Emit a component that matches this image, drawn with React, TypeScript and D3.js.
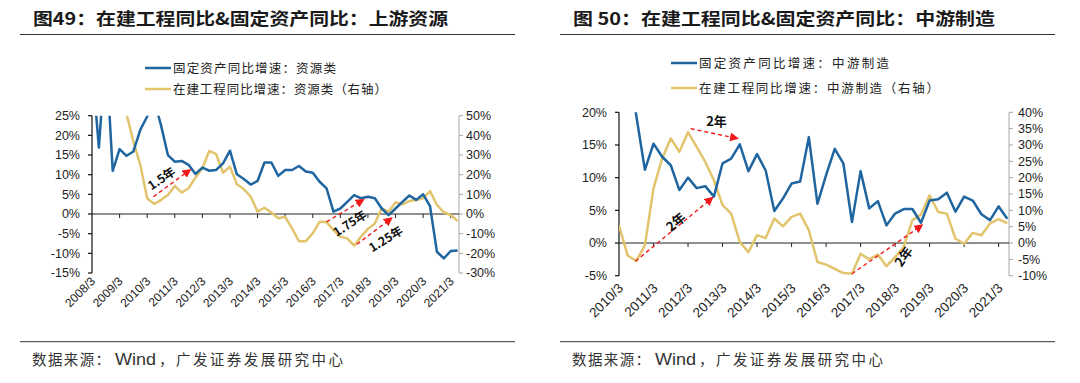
import React from "react";
import * as d3 from "d3";

// ---------- Data ----------
const LEFT_TICKS = ["2008/3","2009/3","2010/3","2011/3","2012/3","2013/3","2014/3","2015/3","2016/3","2017/3","2018/3","2019/3","2020/3","2021/3"];
const LEFT_Y_TICKS = [25, 20, 15, 10, 5, 0, -5, -10, -15];
const LEFT_Y2_TICKS = [50, 40, 30, 20, 10, 0, -10, -20, -30];
// quarterly from 2008/3, 固定资产同比增速：资源类 (%)
const LEFT_FAI = [38, 16.9, 42, 11.0, 16.5, 14.8, 15.9, 21.4, 24.8, 29, 22.6, 15.0, 13.3, 13.5, 12.5, 10.2, 11.8, 11.0, 11.2, 12.9, 16.1, 10.1, 8.9, 7.5, 8.4, 13.1, 13.1, 9.7, 11.2, 11.2, 12.2, 10.8, 10.5, 8.2, 6.5, 0.6, 1.4, 3.1, 4.8, 4.0, 4.4, 4.0, 1.4, -0.3, 1.4, 3.1, 4.7, 3.6, 5.0, 2.0, -9.6, -11.3, -9.4, -9.3];
// 在建工程同比增速：资源类（右轴）(%)
const LEFT_CIP: (number | null)[] = [null, null, null, 72, 62, 51, 36.8, 25, 8, 5.1, 7.1, 9.7, 14.3, 10.9, 13.1, 18.5, 23.3, 32.1, 30.4, 21, 24.1, 15.1, 12.7, 8.8, 1.2, 3.2, 0.8, -2.2, -1.4, -7.3, -13.8, -13.8, -9.8, -3.9, -4.1, -8.2, -11.5, -12.4, -16.1, -11.5, -7.6, -4.8, 2.9, 1.2, 6, 4.9, 6.6, 7.1, 8, 11.7, 4.6, 0.9, -0.5, -3.6];

const RIGHT_TICKS = ["2010/3","2011/3","2012/3","2013/3","2014/3","2015/3","2016/3","2017/3","2018/3","2019/3","2020/3","2021/3"];
const RIGHT_Y_TICKS = [20, 15, 10, 5, 0, -5];
const RIGHT_Y2_TICKS = [40, 35, 30, 25, 20, 15, 10, 5, 0, -5, -10];
// quarterly from 2010/3, 固定资产同比增速：中游制造 (%)
const RIGHT_FAI = [30, 30, 19.5, 11.2, 15.2, 13.2, 11.9, 8.1, 10.0, 8.4, 8.7, 7.1, 12.2, 12.9, 15.1, 11.0, 13.6, 11.1, 4.9, 6.8, 9.1, 9.4, 16.2, 6.0, 10.4, 14.4, 12.2, 3.2, 11.0, 5.3, 6.4, 2.7, 4.5, 5.2, 5.2, 3.1, 6.5, 6.7, 7.7, 4.8, 7.1, 6.5, 4.4, 3.5, 5.6, 3.7];
// 在建工程同比增速：中游制造（右轴）(%)
const RIGHT_CIP = [5.4, -3.8, -5.5, -0.7, 16.7, 25.9, 32, 27.9, 33.9, 29.4, 24.8, 19.2, 11.6, 9.0, 0.3, -2.8, 2.4, 1.5, 7.5, 5.1, 8.0, 9.0, 3.9, -5.8, -6.6, -7.9, -9.2, -9.4, -3.3, -5.0, -3.5, -7.1, -4.3, -1.2, 7.0, 8.7, 14.6, 9.5, 9.0, 1.3, -0.2, 3.1, 2.4, 6.0, 7.3, 6.0];

// annotations in data units (quarter index, left-axis value)
const LEFT_ARROWS = [
  { q0: 8.9, v0: 4.4, q1: 14.2, v1: 11.2 },
  { q0: 34.0, v0: -2.0, q1: 39.3, v1: 3.6 },
  { q0: 38.4, v0: -7.7, q1: 43.4, v1: -1.1 },
];
const LEFT_NOTES = [
  { q: 10.1, v: 9.0, text: "1.5年", angle: -34 },
  { q: 37.4, v: -2.4, text: "1.75年", angle: -33 },
  { q: 42.6, v: -6.4, text: "1.25年", angle: -32 },
];
const RIGHT_ARROWS = [
  { q0: 8.3, v0: 17.5, q1: 13.7, v1: 16.0 },
  { q0: 1.9, v0: -2.8, q1: 10.8, v1: 6.9 },
  { q0: 27.0, v0: -4.7, q1: 35.1, v1: 2.7 },
];
const RIGHT_NOTES = [
  { q: 11.3, v: 18.6, text: "2年", angle: 0 },
  { q: 6.6, v: 3.2, text: "2年", angle: -40 },
  { q: 33.0, v: -2.1, text: "2年", angle: -55 },
];

const BLUE = "#1f65a0";
const GOLD = "#e2c46d";
const NUM_FONT = "'Liberation Sans', Arial, sans-serif";
const CJK_FONT = "'Noto Sans CJK SC', 'Liberation Sans', sans-serif";

type PanelProps = {
  id: string;
  title: string;
  titleX: number;
  titleW: number;
  ruleX0: number;
  ruleX1: number;
  legend1: string;
  legend2: string;
  legX: number;
  legY1: number;
  legY2: number;
  legW1: number;
  legW2: number;
  ticks: string[];
  fai: (number | null)[];
  cip: (number | null)[];
  xr: [number, number];
  qMax: number;
  yr: [number, number];
  lDom: [number, number];
  rDom: [number, number];
  lTicks: number[];
  rTicks: number[];
  xFont: number;
  xLabDx: number;
  xLabY: number;
  rLabGap: number;
  arrows: { q0: number; v0: number; q1: number; v1: number }[];
  notes: { q: number; v: number; text: string; angle: number }[];
  noteFont: number;
};

function Panel(p: PanelProps) {
  const x = d3.scaleLinear().domain([0, p.qMax]).range(p.xr);
  const yL = d3.scaleLinear().domain(p.lDom).range(p.yr);
  const yR = d3.scaleLinear().domain(p.rDom).range(p.yr);
  const lineL = d3
    .line<number | null>()
    .defined((d) => d !== null)
    .x((_, i) => x(i))
    .y((d) => yL(d as number));
  const lineR = d3
    .line<number | null>()
    .defined((d) => d !== null)
    .x((_, i) => x(i))
    .y((d) => yR(d as number));
  const [x0, x1] = p.xr;
  const [yb, yt] = p.yr;
  const y0 = yL(0);
  const clipId = `clip-${p.id}`;
  const fx = p.ruleX0;
  return (
    <g>
      <defs>
        <clipPath id={clipId}>
          <rect x={x0} y={yt} width={x1 - x0} height={yb - yt} />
        </clipPath>
      </defs>
      {/* title */}
      <text x={p.titleX} y={25} fontFamily={CJK_FONT} fontWeight="bold" fontSize={17} fill="#1a1a1a" textLength={p.titleW} lengthAdjust="spacingAndGlyphs">
        {p.title}
      </text>
      <line x1={p.ruleX0} x2={p.ruleX1} y1={34.5} y2={34.5} stroke="#333" strokeWidth={1} />
      {/* legend */}
      <line x1={p.legX} x2={p.legX + 26} y1={p.legY1} y2={p.legY1} stroke={BLUE} strokeWidth={2.5} />
      <text x={p.legX + 28} y={p.legY1 + 4.5} fontFamily={CJK_FONT} fontSize={12.5} fill="#222" textLength={p.legW1} lengthAdjust="spacing">
        {p.legend1}
      </text>
      <line x1={p.legX} x2={p.legX + 26} y1={p.legY2} y2={p.legY2} stroke={GOLD} strokeWidth={2.5} />
      <text x={p.legX + 28} y={p.legY2 + 4.5} fontFamily={CJK_FONT} fontSize={12.5} fill="#222" textLength={p.legW2} lengthAdjust="spacing">
        {p.legend2}
      </text>
      {/* left axis */}
      <line x1={x0} x2={x0} y1={yt} y2={yb} stroke="#111" strokeWidth={1.2} />
      {p.lTicks.map((t) => (
        <g key={`l${t}`}>
          <line x1={x0 - 4} x2={x0} y1={yL(t)} y2={yL(t)} stroke="#111" strokeWidth={1.2} />
          <text x={x0 - 12} y={yL(t)} dy="0.35em" textAnchor="end" fontFamily={NUM_FONT} fontSize={12.5} fill="#222">
            {`${t}%`}
          </text>
        </g>
      ))}
      {/* right axis */}
      <line x1={x1} x2={x1} y1={yt} y2={yb} stroke="#a6a6a6" strokeWidth={1} />
      {p.rTicks.map((t) => (
        <g key={`r${t}`}>
          <line x1={x1} x2={x1 + 4} y1={yR(t)} y2={yR(t)} stroke="#a6a6a6" strokeWidth={1} />
          <text x={x1 + p.rLabGap} y={yR(t)} dy="0.35em" textAnchor="start" fontFamily={NUM_FONT} fontSize={12.5} fill="#222">
            {`${t}%`}
          </text>
        </g>
      ))}
      {/* zero line and category ticks */}
      <line x1={x0} x2={x1} y1={y0} y2={y0} stroke="#222" strokeWidth={1} />
      {p.ticks.map((t, i) => {
        const tx = x(i * 4);
        return (
          <g key={t}>
            {i > 0 && <line x1={tx} x2={tx} y1={y0} y2={y0 + 4} stroke="#222" strokeWidth={1} />}
            <text
              x={tx + p.xLabDx}
              y={p.xLabY}
              textAnchor="end"
              fontFamily={NUM_FONT}
              fontSize={p.xFont}
              fill="#222"
              transform={`rotate(-45 ${tx + p.xLabDx} ${p.xLabY})`}
            >
              {t}
            </text>
          </g>
        );
      })}
      {/* series */}
      <g clipPath={`url(#${clipId})`}>
        <path d={lineR(p.cip) || ""} fill="none" stroke={GOLD} strokeWidth={2.5} strokeLinejoin="round" />
        <path d={lineL(p.fai) || ""} fill="none" stroke={BLUE} strokeWidth={2.5} strokeLinejoin="round" />
      </g>
      {/* annotations */}
      {p.arrows.map((a, i) => (
        <line
          key={`a${i}`}
          x1={x(a.q0)}
          y1={yL(a.v0)}
          x2={x(a.q1)}
          y2={yL(a.v1)}
          stroke="#f01818"
          strokeWidth={1.4}
          strokeDasharray="4 3"
          markerEnd="url(#redArrow)"
        />
      ))}
      {p.notes.map((n, i) => (
        <text
          key={`n${i}`}
          x={x(n.q)}
          y={yL(n.v)}
          textAnchor="middle"
          dy="0.35em"
          fontFamily={CJK_FONT}
          fontWeight="bold"
          fontSize={p.noteFont}
          fill="#111"
          transform={`rotate(${n.angle} ${x(n.q)} ${yL(n.v)})`}
        >
          {n.text}
        </text>
      ))}
      {/* footer */}
      <line x1={p.ruleX0} x2={p.ruleX1} y1={341.7} y2={341.7} stroke="#333" strokeWidth={1} />
      <text x={fx + 12} y={365} fontFamily={CJK_FONT} fontSize={14.5} fill="#333" textLength={78} lengthAdjust="spacing">
        数据来源：
      </text>
      <text x={fx + 95} y={365} fontFamily={NUM_FONT} fontSize={16} fill="#333" textLength={41} lengthAdjust="spacingAndGlyphs">
        Wind
      </text>
      <text x={fx + 139} y={365} fontFamily={CJK_FONT} fontSize={14.5} fill="#333" textLength={184} lengthAdjust="spacing">
        ，广发证券发展研究中心
      </text>
    </g>
  );
}

export default function App() {
  return (
    <svg
      width={1080}
      height={383}
      viewBox="0 0 1080 383"
      style={{ position: "fixed", left: 0, top: 0, background: "#fff" }}
    >
      <defs>
        <marker id="redArrow" viewBox="0 0 10 10" refX="8" refY="5" markerWidth="9" markerHeight="9" markerUnits="userSpaceOnUse" orient="auto">
          <path d="M0,0 L10,5 L0,10 z" fill="#f01818" />
        </marker>
      </defs>
      <rect x={0} y={0} width={1080} height={383} fill="#fff" />
      <Panel
        id="left"
        title="图49：在建工程同比&固定资产同比：上游资源"
        titleX={33}
        titleW={415}
        ruleX0={20}
        ruleX1={515}
        legend1="固定资产同比增速：资源类"
        legend2="在建工程同比增速：资源类（右轴）"
        legX={145}
        legY1={68}
        legY2={89}
        legW1={163}
        legW2={214}
        ticks={LEFT_TICKS}
        fai={LEFT_FAI}
        cip={LEFT_CIP}
        xr={[92, 459]}
        qMax={53.2}
        yr={[273, 115.7]}
        lDom={[-15, 25]}
        rDom={[-30, 50]}
        lTicks={LEFT_Y_TICKS}
        rTicks={LEFT_Y2_TICKS}
        xFont={12}
        xLabDx={4}
        xLabY={282}
        rLabGap={7}
        arrows={LEFT_ARROWS}
        notes={LEFT_NOTES}
        noteFont={12}
      />
      <Panel
        id="right"
        title="图 50：在建工程同比&固定资产同比：中游制造"
        titleX={573}
        titleW={422}
        ruleX0={560}
        ruleX1={1055}
        legend1="固定资产同比增速：中游制造"
        legend2="在建工程同比增速：中游制造（右轴）"
        legX={671}
        legY1={63}
        legY2={88}
        legW1={190}
        legW2={240}
        ticks={RIGHT_TICKS}
        fai={RIGHT_FAI}
        cip={RIGHT_CIP}
        xr={[619, 1009]}
        qMax={45.2}
        yr={[275.7, 112.3]}
        lDom={[-5, 20]}
        rDom={[-10, 40]}
        lTicks={RIGHT_Y_TICKS}
        rTicks={RIGHT_Y2_TICKS}
        xFont={13.5}
        xLabDx={5}
        xLabY={289}
        rLabGap={9}
        arrows={RIGHT_ARROWS}
        notes={RIGHT_NOTES}
        noteFont={13}
      />
    </svg>
  );
}
